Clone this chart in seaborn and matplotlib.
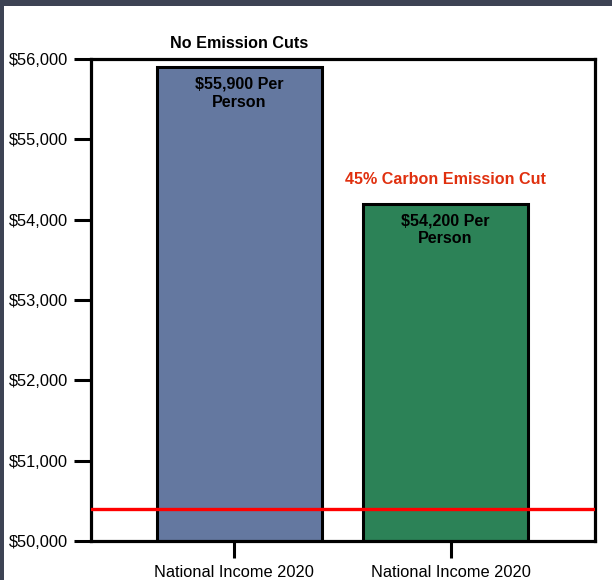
import matplotlib
matplotlib.use("Agg")
import matplotlib.pyplot as plt
from matplotlib.patches import Rectangle
from matplotlib.ticker import FuncFormatter, MultipleLocator
import seaborn as sns
import pandas as pd

# Per-person national income under two emission scenarios
scenarios = ["No Emission Cuts", "45% Carbon Emission Cut"]
income = [55900, 54200]
tick_labels = ["National Income 2020", "National Income 2020"]
baseline = 50400
y_range = (50000, 56000)

bar_colors = ["#6478A0", "#2C8257"]
scenario_colors = ["#000000", "#E0300F"]

sns.set_theme(style="white")
plt.rcParams["font.family"] = ["Liberation Sans", "DejaVu Sans"]

fig = plt.figure(figsize=(6.12, 5.8), dpi=100)
fig.patch.set_facecolor("white")
# dark frame strips along top and left edges
fig.patches.append(Rectangle((0, 1 - 6 / 580), 1, 6 / 580, transform=fig.transFigure,
                             facecolor="#3D4354", edgecolor="none", zorder=0))
fig.patches.append(Rectangle((0, 0), 4 / 612, 1, transform=fig.transFigure,
                             facecolor="#3D4354", edgecolor="none", zorder=0))

ax = fig.add_axes([90.5 / 612, 39 / 580, (595 - 90.5) / 612, (541 - 59) / 580])

df = pd.DataFrame({"scenario": scenarios, "income": income})
sns.barplot(data=df, x="scenario", y="income", hue="scenario", palette=bar_colors,
            legend=False, width=0.8, edgecolor="black", linewidth=2.2,
            saturation=1, ax=ax)

ax.set_ylim(*y_range)
ax.set_xlim(-0.723, 1.726)
ax.yaxis.set_major_locator(MultipleLocator(1000))
ax.yaxis.set_major_formatter(FuncFormatter(lambda v, _: f"${v:,.0f}"))

ax.axhline(baseline, color="#FF0000", linewidth=2.4, zorder=5)

# category ticks sit slightly wider apart than the bar centres
ax.set_xticks([i * 1.054 - 0.027 for i in range(len(scenarios))])
ax.set_xticklabels(tick_labels)
ax.set_xlabel("")
ax.set_ylabel("")

for side in ["left", "right", "top", "bottom"]:
    ax.spines[side].set_visible(True)
    ax.spines[side].set_color("black")
    ax.spines[side].set_linewidth(2.3)

ax.tick_params(axis="both", direction="out", length=12.5, width=2.2, color="black",
               labelsize=11.8, labelcolor="black")
ax.tick_params(axis="y", pad=3.5)
ax.tick_params(axis="x", pad=5)
ax.tick_params(left=True, bottom=True)

for i, (name, val, col) in enumerate(zip(scenarios, income, scenario_colors)):
    ax.annotate(name, xy=(i, val), xytext=(0, 17), textcoords="offset points",
                ha="center", va="center", fontsize=11.6, fontweight="bold",
                color=col, annotation_clip=False)
    ax.annotate(f"${val:,} Per\nPerson", xy=(i, val), xytext=(0, -7),
                textcoords="offset points", ha="center", va="top",
                fontsize=11.6, fontweight="bold", color="black",
                linespacing=1.25)

fig.savefig("out.png", dpi=100, facecolor=fig.get_facecolor())
